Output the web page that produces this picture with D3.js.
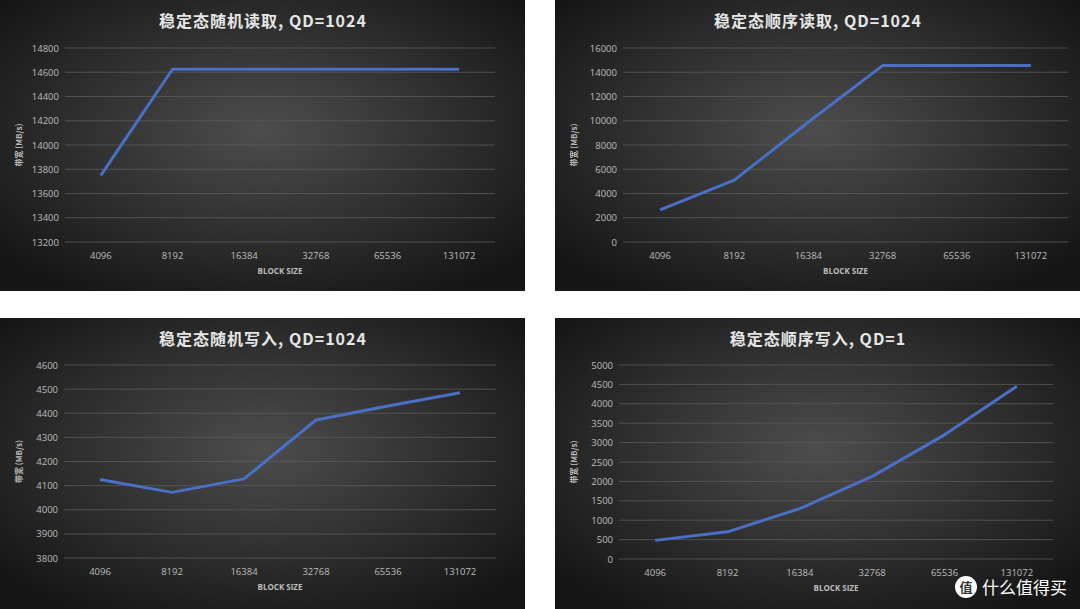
<!DOCTYPE html>
<html lang="en">
<head>
<meta charset="UTF-8">
<title>SSD steady state</title>
<style>
  body { margin: 0; background: #fff; }
  svg { position: absolute; }
</style>
</head>
<body>
<script src="https://d3js.org/d3.v7.min.js"></script>
<script>
// shared categories
const blockSizes = ["4096", "8192", "16384", "32768", "65536", "131072"];

const randReadTitle = "稳定态随机读取, QD=1024";
const randReadValues = [13750, 14625, 14625, 14625, 14625, 14625];
const randReadTicks = [13200, 13400, 13600, 13800, 14000, 14200, 14400, 14600, 14800];

const seqReadTitle = "稳定态顺序读取, QD=1024";
const seqReadValues = [2650, 5100, 9900, 14550, 14550, 14550];
const seqReadTicks = [0, 2000, 4000, 6000, 8000, 10000, 12000, 14000, 16000];

const randWriteTitle = "稳定态随机写入, QD=1024";
const randWriteValues = [4125, 4072, 4128, 4372, 4430, 4485];
const randWriteTicks = [3800, 3900, 4000, 4100, 4200, 4300, 4400, 4500, 4600];

const seqWriteTitle = "稳定态顺序写入, QD=1";
const seqWriteValues = [480, 700, 1300, 2130, 3200, 4450];
const seqWriteTicks = [0, 500, 1000, 1500, 2000, 2500, 3000, 3500, 4000, 4500, 5000];

const W = 525, H = 291;
const defs = d3.select("body").append("svg").attr("width", 0).attr("height", 0).append("defs");
const grad = defs.append("radialGradient").attr("id", "bg").attr("cx", "50%").attr("cy", "45%").attr("r", "65%");
grad.append("stop").attr("offset", "0%").attr("stop-color", "#4d4d4d");
grad.append("stop").attr("offset", "100%").attr("stop-color", "#161616");

function panel(left, top, title, values, ticks, m) {
  const svg = d3.select("body").append("svg")
    .style("left", left + "px").style("top", top + "px")
    .attr("width", W).attr("height", H);
  svg.append("rect").attr("width", W).attr("height", H).attr("fill", "url(#bg)");

  svg.append("text").attr("x", 263).attr("y", 27).attr("text-anchor", "middle")
    .attr("fill", "#e6e6e6").style("font-family", "Noto Sans CJK SC").style("font-weight", "bold")
    .style("font-size", "16px").style("letter-spacing", "1px").text(title);

  const x = d3.scaleBand().domain(blockSizes).range([m.x0, m.x1]);
  const y = d3.scaleLinear().domain(d3.extent(ticks)).range([m.yb, m.yt]);

  // gridlines
  svg.append("g").selectAll("line").data(ticks).join("line")
    .attr("x1", m.x0).attr("x2", m.x1).attr("y1", d => y(d)).attr("y2", d => y(d))
    .attr("stroke", "#5a5a5a").attr("stroke-width", 0.8);

  const yAxis = svg.append("g").attr("transform", `translate(${m.x0 - 4},0)`)
    .call(d3.axisLeft(y).tickValues(ticks).tickSize(0).tickPadding(2).tickFormat(d3.format("d")));
  yAxis.select(".domain").remove();

  const xAxis = svg.append("g").attr("transform", `translate(0,${m.yb + 6})`)
    .call(d3.axisBottom(x).tickSize(0).tickPadding(4));
  xAxis.select(".domain").remove();

  svg.selectAll(".tick text").attr("fill", "#bdbdbd")
    .style("font-family", "Open Sans").style("font-size", "9.5px");

  svg.append("text").attr("x", (m.x0 + m.x1) / 2).attr("y", m.yb + 32).attr("text-anchor", "middle")
    .attr("fill", "#bdbdbd").style("font-family", "Open Sans").style("font-weight", "bold")
    .style("font-size", "8px").text("BLOCK SIZE");

  svg.append("text").attr("transform", `translate(${m.lx},${(m.yt + m.yb) / 2}) rotate(-90)`)
    .attr("text-anchor", "middle").attr("fill", "#bdbdbd")
    .style("font-family", "Noto Sans CJK SC").style("font-weight", "bold")
    .style("font-size", "8px").text("带宽 (MB/s)");

  const line = d3.line().x((d, i) => x(blockSizes[i]) + x.bandwidth() / 2).y(d => y(d));
  svg.append("path").datum(values).attr("d", line)
    .attr("fill", "none").attr("stroke", "#4a6fc4").attr("stroke-width", 3)
    .attr("stroke-linejoin", "round");
  return svg;
}

panel(0, 0, randReadTitle, randReadValues, randReadTicks, {x0: 65, x1: 495, yt: 48, yb: 242, lx: 22});
panel(555, 0, seqReadTitle, seqReadValues, seqReadTicks, {x0: 68, x1: 513, yt: 48, yb: 242, lx: 22});
panel(0, 318, randWriteTitle, randWriteValues, randWriteTicks, {x0: 64, x1: 496, yt: 47, yb: 240, lx: 22});
panel(555, 318, seqWriteTitle, seqWriteValues, seqWriteTicks, {x0: 64, x1: 498, yt: 47, yb: 241, lx: 22});

// watermark, drawn over the page corner
const wm = d3.select("body").append("svg").style("left", "950px").style("top", "572px")
  .attr("width", 128).attr("height", 32);
wm.append("circle").attr("cx", 16).attr("cy", 15).attr("r", 11).attr("fill", "#fff");
wm.append("text").attr("x", 16).attr("y", 20).attr("text-anchor", "middle").attr("fill", "#333")
  .style("font-family", "Noto Sans CJK SC").style("font-weight", "bold").style("font-size", "13px").text("值");
wm.append("text").attr("x", 32).attr("y", 22).attr("fill", "#fff")
  .style("font-family", "Noto Sans CJK SC").style("font-size", "17px").text("什么值得买");
</script>
</body>
</html>
